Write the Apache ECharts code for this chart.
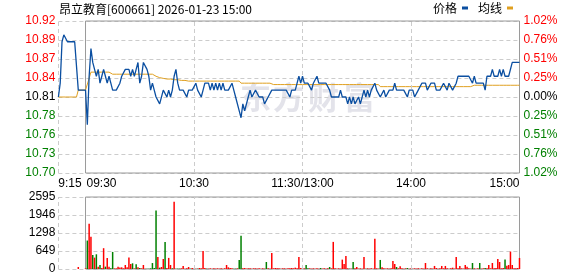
<!DOCTYPE html>
<html><head><meta charset="utf-8">
<script src="https://cdn.jsdelivr.net/npm/echarts@6/dist/echarts.min.js"></script>
<style>html,body{margin:0;padding:0;background:#fff}#c{width:578px;height:276px}</style>
</head><body><div id="c"></div>
<script>
const titleText = '昂立教育[600661] 2026-01-23 15:00';
const seriesNames = ['价格', '均线'];
const preClose = 10.81;
const priceStep = 0.0275;
const priceTicks = ['10.70','10.73','10.76','10.78','10.81','10.84','10.87','10.89','10.92'];
const pctTicks = ['1.02%','0.76%','0.51%','0.25%','0.00%','0.25%','0.51%','0.76%','1.02%'];
const timeTickPos = [0, 15, 75, 135, 195, 255];
const timeTickLabels = ['9:15', '09:30', '10:30', '11:30/13:00', '14:00', '15:00'];
const dividerPos = [0, 75, 135, 195];
const sessionStart = 15, sessionEnd = 255;
const volTicks = ['0', '649', '1298', '1946', '2595'];
const volMax = 2595;

// minute prices 9:15 .. 15:00 (256 points, 9:15-9:30 auction + 240 trading minutes)
const price = [
10.81,10.83,10.89,10.90,10.90,10.89,10.89,10.89,10.89,10.89,
10.89,10.82,10.82,10.82,10.82,10.82,10.77,10.84,10.88,10.86,
10.85,10.84,10.85,10.83,10.84,10.85,10.84,10.83,10.84,10.83,
10.82,10.82,10.82,10.82,10.83,10.84,10.84,10.85,10.85,10.85,
10.84,10.85,10.84,10.85,10.86,10.83,10.84,10.86,10.86,10.85,
10.84,10.82,10.83,10.82,10.81,10.81,10.80,10.80,10.82,10.82,
10.81,10.82,10.81,10.82,10.84,10.85,10.83,10.82,10.82,10.82,
10.82,10.81,10.82,10.82,10.82,10.82,10.83,10.82,10.82,10.81,
10.82,10.83,10.83,10.83,10.82,10.83,10.82,10.83,10.82,10.83,
10.82,10.83,10.82,10.82,10.82,10.82,10.83,10.82,10.81,10.81,
10.79,10.78,10.80,10.79,10.80,10.81,10.82,10.81,10.81,10.82,
10.82,10.81,10.81,10.81,10.80,10.80,10.81,10.81,10.82,10.82,
10.82,10.82,10.82,10.82,10.82,10.82,10.82,10.82,10.81,10.82,
10.82,10.82,10.83,10.84,10.83,10.84,10.83,10.83,10.83,10.83,
10.82,10.83,10.83,10.84,10.83,10.83,10.83,10.83,10.83,10.83,
10.82,10.81,10.81,10.81,10.81,10.81,10.82,10.81,10.81,10.81,
10.80,10.81,10.80,10.81,10.80,10.80,10.81,10.80,10.80,10.82,
10.81,10.82,10.81,10.82,10.82,10.83,10.82,10.82,10.81,10.81,
10.82,10.81,10.81,10.82,10.82,10.82,10.83,10.82,10.82,10.82,
10.82,10.82,10.82,10.81,10.82,10.82,10.82,10.81,10.81,10.82,
10.82,10.83,10.83,10.83,10.82,10.82,10.83,10.83,10.83,10.82,
10.82,10.82,10.82,10.83,10.83,10.82,10.83,10.83,10.82,10.82,
10.83,10.84,10.84,10.84,10.84,10.84,10.84,10.84,10.84,10.83,
10.84,10.83,10.83,10.83,10.83,10.83,10.82,10.84,10.84,10.84,
10.85,10.84,10.84,10.84,10.85,10.84,10.85,10.84,10.84,10.84,
10.84,10.86,10.86,10.86,10.86,10.86
];
const avgPrice = [
10.81,10.81,10.81,10.81,10.81,10.81,10.81,10.81,10.81,10.81,
10.81,10.82,10.82,10.82,10.82,10.82,10.82,10.837,10.846,10.846,
10.846,10.846,10.846,10.846,10.846,10.846,10.846,10.846,10.846,10.846,
10.843,10.843,10.843,10.843,10.843,10.843,10.843,10.843,10.843,10.843,
10.843,10.843,10.843,10.843,10.843,10.843,10.843,10.843,10.843,10.843,
10.843,10.843,10.843,10.843,10.840,10.840,10.838,10.838,10.837,10.837,
10.836,10.836,10.836,10.835,10.835,10.835,10.835,10.835,10.834,10.834,
10.834,10.833,10.833,10.833,10.833,10.833,10.833,10.833,10.833,10.833,
10.833,10.833,10.833,10.833,10.833,10.833,10.833,10.833,10.833,10.833,
10.833,10.833,10.833,10.833,10.833,10.833,10.833,10.833,10.833,10.833,
10.833,10.830,10.830,10.830,10.830,10.830,10.830,10.830,10.830,10.830,
10.830,10.830,10.830,10.830,10.830,10.830,10.830,10.830,10.828,10.828,
10.828,10.828,10.828,10.828,10.828,10.828,10.828,10.828,10.828,10.828,
10.828,10.828,10.828,10.828,10.828,10.828,10.828,10.828,10.828,10.828,
10.828,10.828,10.828,10.828,10.828,10.828,10.828,10.828,10.828,10.828,
10.828,10.828,10.828,10.828,10.828,10.828,10.828,10.828,10.828,10.828,
10.828,10.828,10.828,10.828,10.828,10.828,10.828,10.828,10.828,10.828,
10.828,10.828,10.828,10.828,10.828,10.828,10.828,10.828,10.825,10.825,
10.825,10.825,10.825,10.825,10.825,10.825,10.825,10.825,10.825,10.825,
10.825,10.825,10.825,10.825,10.825,10.825,10.825,10.825,10.825,10.825,
10.825,10.825,10.825,10.825,10.825,10.825,10.825,10.825,10.825,10.825,
10.825,10.825,10.825,10.825,10.825,10.825,10.825,10.825,10.825,10.825,
10.825,10.825,10.825,10.825,10.825,10.825,10.825,10.825,10.825,10.827,
10.827,10.827,10.827,10.827,10.827,10.827,10.827,10.827,10.827,10.827,
10.827,10.827,10.827,10.827,10.827,10.827,10.827,10.827,10.827,10.827,
10.827,10.827,10.827,10.827,10.827,10.827
];
const volume = [
0,0,0,0,0,0,0,0,0,0,
0,72,0,0,0,24,1026,1630,1160,507,
410,530,85,145,36,750,85,400,85,24,
615,20,20,85,50,60,24,145,60,410,
180,205,20,170,60,36,24,145,12,12,
12,24,215,36,2112,435,48,72,360,977,
36,400,145,24,2426,12,12,12,24,110,
12,24,72,12,36,12,12,12,36,24,
650,36,12,12,24,12,24,12,24,12,
24,12,24,145,60,36,24,12,12,24,
326,1195,24,36,12,24,24,12,24,24,
12,24,12,24,12,253,24,12,580,24,
36,24,24,12,24,24,12,24,24,36,
24,48,24,435,36,12,24,145,24,24,
12,24,12,24,12,36,12,24,12,24,
72,24,977,24,12,24,12,338,180,470,
24,12,12,253,24,72,12,24,12,435,
12,24,12,24,12,1086,24,12,326,60,
24,12,24,12,24,290,180,72,24,96,
24,12,24,36,12,24,12,24,12,24,
12,24,12,217,24,12,24,12,110,36,
12,24,110,24,110,24,12,24,48,12,
435,24,110,24,12,145,85,24,12,217,
24,12,24,217,12,24,36,24,145,24,
217,24,36,362,253,24,36,338,120,145,
628,145,24,24,36,398
];
// r = up (red), g = down (green)
const volDir = [
'rrrrrrrrrr','rrrrrrgrrg','rgrgrrgrrg','grrrrrrrrr','rgrgrgrrrg',
'gggggrgrrg','rrrgrgggrr','rrrgrrrgrr','rrgrrrrrrr','rrrrrrrggr',
'ggrrrrrrrr','rrrrrgrrrr','rrrrrrrrrr','rrrrrgrggr','rrrrrgrrrr',
'grrrrrrrrr','rgrgrrrrrr','grrrrrrrgr','rrrrrrrgrr','rrrgrrrrrr',
'rrrrrrrrrr','rrrrrrrrrr','rrrrrrrrrg','rrrgrrgrrr','rrrrrrrgrr',
'rrrrrr'
].join('');

const RED = '#ff0000', GREEN = '#008000', BLUE = '#0b4fa1', ORANGE = '#e0a020';
const GRIDC = '#cccccc', BORDER = '#9a9a9a';
const numFont = '"Liberation Sans", Arial, sans-serif';
const cjkFont = '"Noto Sans CJK SC", "Liberation Sans", sans-serif';

const toV = p => (p - preClose) / priceStep;
const priceData = price.map((p, i) => [i, toV(p)]);
const avgData = avgPrice.map((p, i) => [i, toV(p)]);
const volData = volume.map((v, i) => ({value: [i, v], itemStyle: {color: volDir[i] === 'g' ? GREEN : RED}}));

const signColor = v => { v = Number(v); return v > 0 ? RED : (v < 0 ? GREEN : '#000'); };

const chart = echarts.init(document.getElementById('c'), null, {renderer: 'canvas'});
const timeLabel = (v) => {
  const k = timeTickPos.indexOf(Math.round(v));
  if (k < 0) return '';
  const t = timeTickLabels[k];
  if (k === 0) return '{l|' + t + '}';
  if (k === 1) return '{m|' + t + '}';
  if (k === timeTickPos.length - 1) return '{r|' + t + '}';
  return t;
};
const dashed = {color: GRIDC, type: [4, 3], width: 1};

chart.setOption({
  animation: false,
  textStyle: {fontFamily: numFont},
  title: {text: titleText, left: 59, top: 3, padding: 0,
    textStyle: {fontSize: 12, fontWeight: 'normal', color: '#000', fontFamily: cjkFont}},
  legend: {right: 65, top: 2, padding: 0, itemWidth: 6, itemHeight: 3, itemGap: 10, align: 'right',
    icon: 'rect', data: seriesNames,
    textStyle: {fontSize: 12, color: '#000', fontFamily: cjkFont}},
  graphic: [
    {type: 'text', left: 240, top: 82, z: -10, silent: true, style: {text: '东', fill: '#e3e3ea', font: 'bold 31px "Noto Sans CJK SC"'}},
    {type: 'text', left: 273, top: 82, z: -10, silent: true, style: {text: '方', fill: '#e3e3ea', font: 'bold 31px "Noto Sans CJK SC"'}},
    {type: 'text', left: 308, top: 82, z: -10, silent: true, style: {text: '财', fill: '#e3e3ea', font: 'bold 31px "Noto Sans CJK SC"'}},
    {type: 'text', left: 344, top: 82, z: -10, silent: true, style: {text: '富', fill: '#e3e3ea', font: 'bold 31px "Noto Sans CJK SC"'}}
  ],
  grid: [
    {left: 58.4, width: 461.1, top: 21, height: 152},
    {left: 58.4, width: 461.1, top: 197, height: 72}
  ],
  xAxis: [
    {gridIndex: 0, type: 'value', min: 0, max: sessionEnd, interval: 15,
      axisLine: {show: false}, axisTick: {show: false}, splitLine: {show: false},
      axisLabel: {show: true, showMinLabel: true, showMaxLabel: true, margin: 5, fontSize: 12, color: '#000',
        formatter: timeLabel,
        rich: {l: {fontSize: 12, color: '#000', padding: [0, 0, 0, 23]},
               m: {fontSize: 12, color: '#000', padding: [0, 0, 0, 32]},
               r: {fontSize: 12, color: '#000', padding: [0, 30, 0, 0]}}}},
    {gridIndex: 1, type: 'value', min: 0, max: sessionEnd, interval: 15,
      axisLine: {show: false}, axisTick: {show: false}, splitLine: {show: false}, axisLabel: {show: false}}
  ],
  yAxis: [
    {gridIndex: 0, type: 'value', position: 'left', min: -4, max: 4, interval: 1,
      axisLine: {show: false}, axisTick: {show: false},
      splitLine: {show: true, lineStyle: dashed},
      axisLabel: {margin: 3, fontSize: 12, formatter: (v) => priceTicks[Math.round(v) + 4], color: signColor}},
    {gridIndex: 0, type: 'value', position: 'right', min: -4, max: 4, interval: 1,
      axisLine: {show: false}, axisTick: {show: false}, splitLine: {show: false},
      axisLabel: {margin: 4, fontSize: 12, formatter: (v) => pctTicks[Math.round(v) + 4], color: signColor}},
    {gridIndex: 1, type: 'value', position: 'left', min: 0, max: volMax, interval: volMax / 4,
      axisLine: {show: false}, axisTick: {show: false},
      splitLine: {show: true, lineStyle: dashed},
      axisLabel: {margin: 3, fontSize: 12, color: '#000', formatter: (v, idx) => volTicks[idx]}}
  ],
  series: [
    {name: seriesNames[0], type: 'line', xAxisIndex: 0, yAxisIndex: 0, data: priceData,
      showSymbol: false, symbol: 'none', color: BLUE, lineStyle: {width: 1.3, color: BLUE}, z: 5,
      markLine: {silent: true, symbol: 'none', label: {show: false}, lineStyle: dashed,
        data: dividerPos.map(x => ({xAxis: x}))},
      markArea: {silent: true, itemStyle: {color: 'rgba(0,0,0,0)', borderColor: BORDER, borderWidth: 1},
        data: [[{coord: [sessionStart, -4]}, {coord: [sessionEnd, 4]}]]}},
    {name: seriesNames[1], type: 'line', xAxisIndex: 0, yAxisIndex: 0, data: avgData,
      showSymbol: false, symbol: 'none', color: ORANGE, lineStyle: {width: 1, color: ORANGE}, z: 4},
    {name: 'vol', type: 'bar', xAxisIndex: 1, yAxisIndex: 2, data: volData, barWidth: 1.5,
      markLine: {silent: true, symbol: 'none', label: {show: false}, lineStyle: dashed,
        data: dividerPos.map(x => ({xAxis: x}))},
      markArea: {silent: true, itemStyle: {color: 'rgba(0,0,0,0)', borderColor: BORDER, borderWidth: 1},
        data: [[{coord: [sessionStart, 0]}, {coord: [sessionEnd, volMax]}]]}}
  ]
});
</script>
</body></html>
